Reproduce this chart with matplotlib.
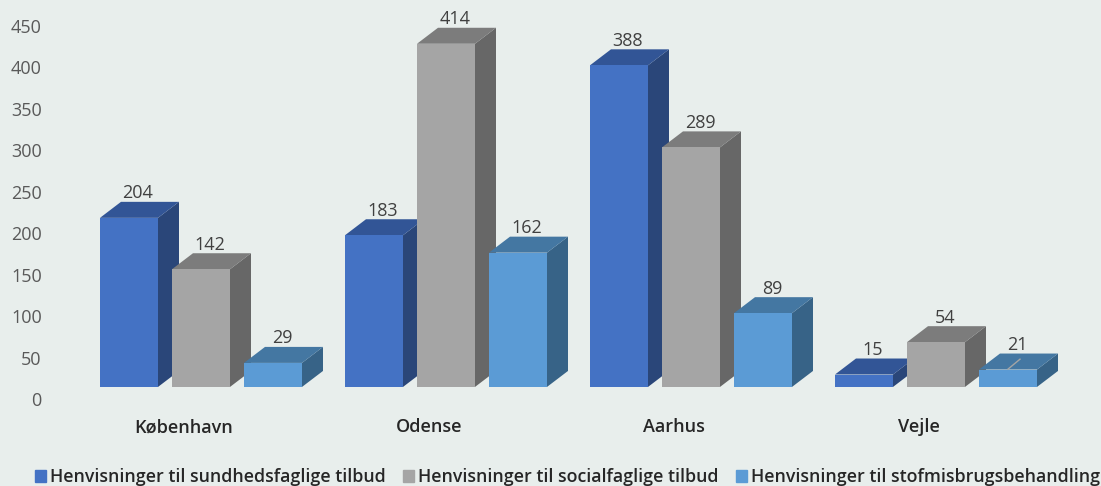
import matplotlib
matplotlib.use("Agg")
import matplotlib.pyplot as plt
from matplotlib.patches import Patch

categories = ["København", "Odense", "Aarhus", "Vejle"]
series_names = ["Henvisninger til sundhedsfaglige tilbud",
                "Henvisninger til socialfaglige tilbud",
                "Henvisninger til stofmisbrugsbehandling"]
sundhed = [204, 183, 388, 15]
social = [142, 414, 289, 54]
stofmisbrug = [29, 162, 89, 21]
yticks = [0, 50, 100, 150, 200, 250, 300, 350, 400, 450]

bg = "#E8EEEC"
front_colors = ["#4472C4", "#A5A5A5", "#5B9BD5"]
side_colors = ["#2A4679", "#676767", "#376387"]
top_colors = ["#325596", "#7C7C7C", "#4477A2"]

# 3d look, everything in axis units
bar_w = 58 / 245
bar_step = 72 / 245
depth_x = 21 / 245
depth_y = 19.3
floor = 14.5

plt.rcParams["font.family"] = ["Open Sans", "DejaVu Sans"]
fig = plt.figure(figsize=(11.01, 4.86), dpi=100, facecolor=bg)
ax = fig.add_axes([0, 0, 1, 1], facecolor=bg)
ax.set_xlim(-201 / 245, 900 / 245)
ax.set_ylim(-105, 481.3)


def bar3d(x, val, k):
    top = floor + val
    ax.fill([x + bar_w, x + bar_w + depth_x, x + bar_w + depth_x, x + bar_w],
            [floor, floor + depth_y, top + depth_y, top], color=side_colors[k], lw=0)
    ax.fill([x, x + depth_x, x + bar_w + depth_x, x + bar_w],
            [top, top + depth_y, top + depth_y, top], color=top_colors[k], lw=0)
    ax.fill([x, x + bar_w, x + bar_w, x], [floor, floor, top, top],
            color=front_colors[k], lw=0)
    ax.text(x + bar_w / 2 + 9 / 245, top + depth_y - 0.5, str(val), ha="center", va="bottom",
            fontsize=13, color="#404040")


for k, vals in enumerate([sundhed, social, stofmisbrug]):
    for i, v in enumerate(vals):
        x = i + (k - 1) * bar_step - bar_w / 2
        bar3d(x, v, k)

# leader line on the Vejle label
x_l = 3 + bar_step + 9 / 245
ax.plot([x_l - 9 / 245, x_l + 3 / 245], [36, 48], color="#A5A5A5", lw=1)

for i, c in enumerate(categories):
    ax.text(i - 17 / 245, -34, c, ha="center", va="center", fontsize=13,
            fontweight="semibold", color="#262626")

ax.set_yticks(yticks)
ax.set_yticklabels(yticks, fontsize=13, color="#595959")
ax.tick_params(axis="y", length=0, pad=-30)
ax.set_xticks([])
for s in ax.spines.values():
    s.set_visible(False)

handles = [Patch(color=c) for c in front_colors]
ax.legend(handles, series_names, ncol=3, loc="lower left", bbox_to_anchor=(0.0205, -0.026),
          frameon=False, handlelength=0.65, handleheight=0.65,
          handletextpad=0.2, columnspacing=0.97, borderpad=0.2, labelcolor="#262626",
          prop={"weight": "semibold", "size": 12.75})

fig.savefig("out.png", dpi=100, facecolor=bg)
